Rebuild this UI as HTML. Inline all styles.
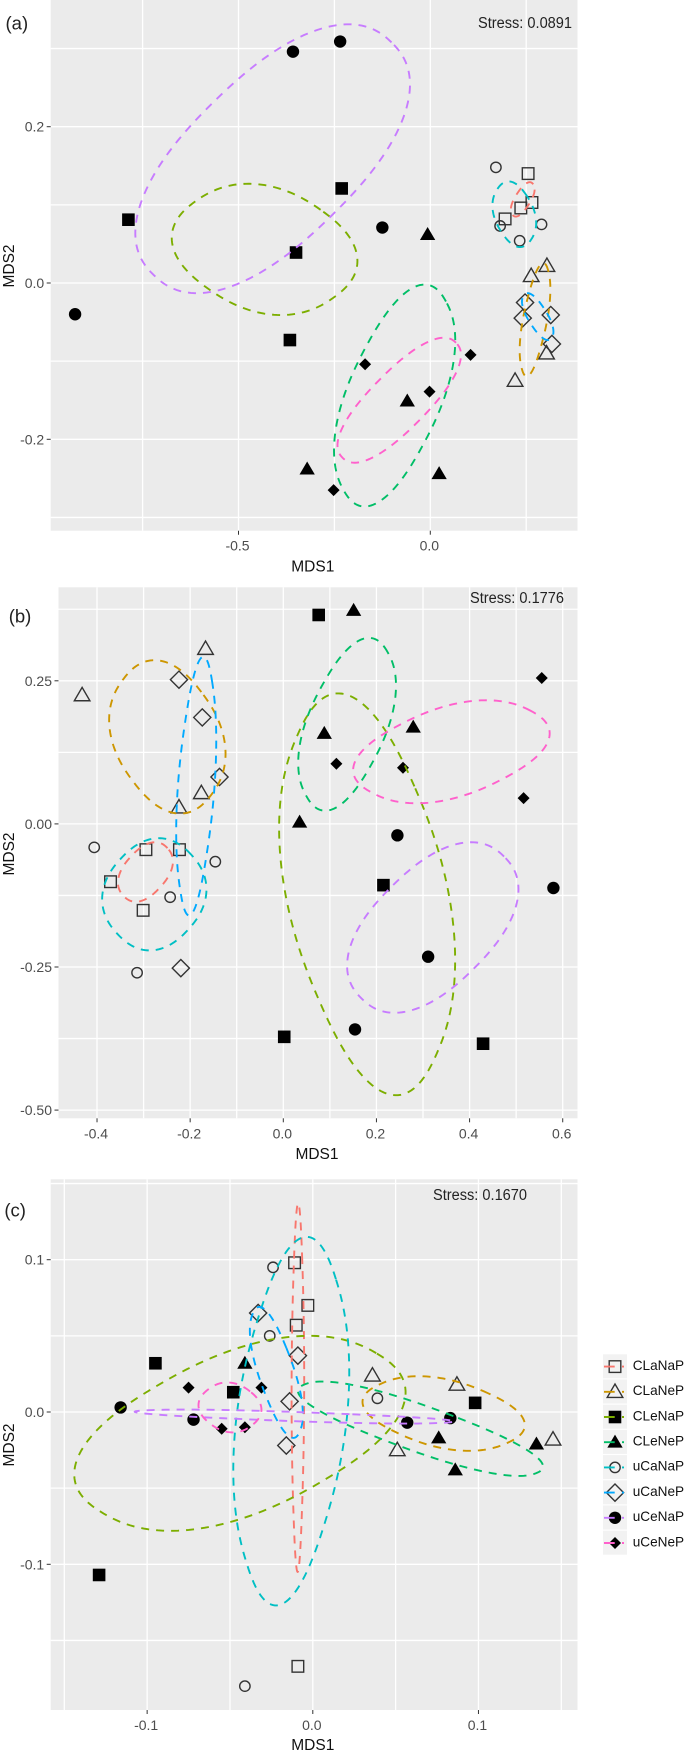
<!DOCTYPE html>
<html lang="en">
<head>
<meta charset="utf-8">
<title>MDS ordination panels</title>
<style>
html,body{margin:0;padding:0;background:#fff;}
svg{display:block;font-family:"Liberation Sans",sans-serif;filter:blur(0.35px);}
.tick{font-size:14px;fill:#4d4d4d;}
.axis-title{font-size:15.5px;fill:#111;}
.stress{font-size:15.5px;fill:#222;}
.tag{font-size:18.5px;fill:#222;}
.legend-label{font-size:13.6px;fill:#111;}
</style>
</head>
<body>
<svg id="chart" xmlns="http://www.w3.org/2000/svg" width="685" height="1751" viewBox="0 0 685 1751">
  <g id="panel-a">
    <rect x="50.7" y="0" width="526.8" height="530.7" fill="#ebebeb"/>
    <g id="panel-a-layer"></g>
    <text class="stress" x="478" y="28" textLength="94" lengthAdjust="spacingAndGlyphs">Stress: 0.0891</text>
    <text class="tag" x="5.5" y="29.5">(a)</text>
    <text class="axis-title" x="312.8" y="571.5" text-anchor="middle">MDS1</text>
    <text class="axis-title" transform="translate(14,266) rotate(-90)" text-anchor="middle">MDS2</text>
  </g>
  <g id="panel-b">
    <rect x="58.5" y="587.3" width="519" height="531" fill="#ebebeb"/>
    <g id="panel-b-layer"></g>
    <text class="stress" x="470" y="603" textLength="94" lengthAdjust="spacingAndGlyphs">Stress: 0.1776</text>
    <text class="tag" x="8.7" y="622.5">(b)</text>
    <text class="axis-title" x="317" y="1159" text-anchor="middle">MDS1</text>
    <text class="axis-title" transform="translate(14,854) rotate(-90)" text-anchor="middle">MDS2</text>
  </g>
  <g id="panel-c">
    <rect x="50.7" y="1179.3" width="526.8" height="530.7" fill="#ebebeb"/>
    <g id="panel-c-layer"></g>
    <text class="stress" x="433" y="1200" textLength="94" lengthAdjust="spacingAndGlyphs">Stress: 0.1670</text>
    <text class="tag" x="4.4" y="1216.5">(c)</text>
    <text class="axis-title" x="312.8" y="1750" text-anchor="middle">MDS1</text>
    <text class="axis-title" transform="translate(14,1445) rotate(-90)" text-anchor="middle">MDS2</text>
  </g>
  <g id="legend"></g>
</svg>
<script>
// ---- groups ----
const groups = ['CLaNaP','CLaNeP','CLeNaP','CLeNeP','uCaNaP','uCaNeP','uCeNaP','uCeNeP'];
const groupColors = ['#F8766D','#CD9600','#7CAE00','#00BE67','#00BFC4','#00A9FF','#C77CFF','#FF61CC'];
const groupShapes = ['square','triangle','square','triangle','circle','diamond','circle','diamond'];
const groupFilled = [false,false,true,true,false,false,true,true];

// ---- panel (a) data: MDS1 / MDS2 per group; ellipse = [centre1, centre2, spread1, spread2, correlation] ----
const aCLaNaPx = [0.255,0.265,0.236,0.195];
const aCLaNaPy = [0.140,0.103,0.096,0.082];
const aCLaNaPe = [0.241,0.107,0.031,0.022,0.65];
const aCLaNePx = [0.304,0.263,0.221,0.303];
const aCLaNePy = [0.022,0.009,-0.125,-0.090];
const aCLaNePe = [0.273,-0.047,0.040,0.0725,0.6];
const aCLeNaPx = [-0.787,-0.231,-0.350,-0.366];
const aCLeNaPy = [0.081,0.121,0.039,-0.073];
const aCLeNaPe = [-0.432,0.043,0.242,0.084,-0.2];
const aCLeNePx = [-0.007,-0.060,-0.321,0.023];
const aCLeNePy = [0.062,-0.151,-0.238,-0.244];
const aCLeNePe = [-0.093,-0.144,0.158,0.142,0.55];
const auCaNaPx = [0.171,0.182,0.290,0.233];
const auCaNaPy = [0.148,0.073,0.075,0.054];
const auCaNaPe = [0.219,0.088,0.057,0.042,-0.3];
const auCaNePx = [0.247,0.241,0.314,0.317];
const auCaNePy = [-0.025,-0.045,-0.041,-0.078];
const auCaNePe = [0.280,-0.043,0.041,0.030,-0.7];
const auCeNaPx = [-0.926,-0.358,-0.235,-0.125];
const auCeNaPy = [-0.040,0.296,0.309,0.071];
const auCeNaPe = [-0.411,0.159,0.358,0.172,0.61];
const auCeNePx = [-0.170,0.105,-0.002,-0.252];
const auCeNePy = [-0.104,-0.092,-0.139,-0.265];
const auCeNePe = [-0.081,-0.150,0.161,0.080,0.78];
const aXMajor = [-0.5,0];
const aXLabels = ['-0.5','0.0'];
const aXMinor = [-0.75,-0.25,0.25];
const aYMajor = [-0.2,0,0.2];
const aYLabels = ['-0.2','0.0','0.2'];
const aYMinor = [-0.3,-0.1,0.1,0.3];

// ---- panel (b) data ----
const bCLaNaPx = [-0.295,-0.223,-0.371,-0.301];
const bCLaNaPy = [-0.045,-0.045,-0.101,-0.151];
const bCLaNaPe = [-0.296,-0.084,0.059,0.052,0.4];
const bCLaNePx = [-0.432,-0.167,-0.176,-0.224];
const bCLaNePy = [0.225,0.306,0.054,0.029];
const bCLaNePe = [-0.249,0.152,0.125,0.134,-0.25];
const bCLeNaPx = [0.076,0.215,0.002,0.429];
const bCLeNaPy = [0.365,-0.107,-0.372,-0.384];
const bCLeNaPe = [0.180,-0.123,0.189,0.351,-0.37];
const bCLeNePx = [0.151,0.088,0.279,0.035];
const bCLeNePy = [0.373,0.158,0.169,0.003];
const bCLeNePe = [0.137,0.174,0.105,0.151,0.5];
const buCaNaPx = [-0.406,-0.146,-0.243,-0.314];
const buCaNaPy = [-0.041,-0.066,-0.128,-0.260];
const buCaNaPe = [-0.277,-0.123,0.112,0.098,0.1];
const buCaNePx = [-0.224,-0.174,-0.137,-0.220];
const buCaNePy = [0.252,0.186,0.082,-0.252];
const buCaNePe = [-0.187,0.066,0.043,0.226,0.4];
const buCeNaPx = [0.245,0.580,0.311,0.154];
const buCeNaPy = [-0.020,-0.112,-0.232,-0.359];
const buCeNaPe = [0.321,-0.181,0.184,0.149,0.5];
const buCeNePx = [0.555,0.114,0.257,0.516];
const buCeNePy = [0.255,0.105,0.098,0.045];
const buCeNePe = [0.361,0.126,0.211,0.090,0.4];
const bXMajor = [-0.4,-0.2,0,0.2,0.4,0.6];
const bXLabels = ['-0.4','-0.2','0.0','0.2','0.4','0.6'];
const bXMinor = [-0.3,-0.1,0.1,0.3,0.5];
const bYMajor = [-0.5,-0.25,0,0.25];
const bYLabels = ['-0.50','-0.25','0.00','0.25'];
const bYMinor = [-0.375,-0.125,0.125,0.375];

// ---- panel (c) data ----
const cCLaNaPx = [-0.011,-0.003,-0.010,-0.009];
const cCLaNaPy = [0.098,0.070,0.057,-0.167];
const cCLaNaPe = [-0.009,0.016,0.0038,0.121,0.05];
const cCLaNePx = [0.036,0.087,0.051,0.145];
const cCLaNePy = [0.024,0.018,-0.025,-0.018];
const cCLaNePe = [0.079,-0.001,0.049,0.0245,-0.35];
const cCLeNaPx = [-0.095,-0.048,0.098,-0.129];
const cCLeNaPy = [0.032,0.013,0.006,-0.107];
const cCLeNaPe = [-0.044,-0.014,0.100,0.064,0.47];
const cCLeNePx = [-0.041,0.076,0.135,0.086];
const cCLeNePy = [0.032,-0.017,-0.021,-0.038];
const cCLeNePe = [0.065,-0.011,0.074,0.031,-0.85];
const cuCaNaPx = [-0.024,-0.026,0.039,-0.041];
const cuCaNaPy = [0.095,0.050,0.009,-0.180];
const cuCaNaPe = [-0.013,-0.006,0.035,0.121,0.3];
const cuCaNePx = [-0.033,-0.009,-0.014,-0.016];
const cuCaNePy = [0.065,0.037,0.007,-0.022];
const cuCaNePe = [-0.022,0.026,0.016,0.043,-0.7];
const cuCeNaPx = [-0.116,-0.072,0.057,0.083];
const cuCeNaPy = [0.003,-0.005,-0.007,-0.004];
const cuCeNaPe = [-0.011,-0.003,0.0965,0.0046,-0.75];
const cuCeNePx = [-0.075,-0.031,-0.055,-0.041];
const cuCeNePy = [0.016,0.016,-0.011,-0.010];
const cuCeNePe = [-0.050,0.003,0.019,0.0164,-0.1];
const cXMajor = [-0.1,0,0.1];
const cXLabels = ['-0.1','0.0','0.1'];
const cXMinor = [-0.15,-0.05,0.05,0.15];
const cYMajor = [-0.1,0,0.1];
const cYLabels = ['-0.1','0.0','0.1'];
const cYMinor = [-0.15,-0.05,0.05,0.15];

const NS = 'http://www.w3.org/2000/svg';
function make(parent, tag, attrs) {
  const node = document.createElementNS(NS, tag);
  for (const k in attrs) node.setAttribute(k, attrs[k]);
  parent.appendChild(node);
  return node;
}

function drawMarker(parent, shape, filled, px, py) {
  const paint = filled
    ? {fill:'#000', stroke:'none'}
    : {fill:'none', stroke:'#333', 'stroke-width':1.4};
  let m;
  if (shape === 'circle') {
    const r = filled ? 6.2 : 5.2;
    m = make(parent, 'circle', Object.assign({cx:px, cy:py, r:r}, paint));
  } else if (shape === 'square') {
    const s = filled ? 12.6 : 11.6;
    m = make(parent, 'rect', Object.assign({x:px-s/2, y:py-s/2, width:s, height:s}, paint));
  } else if (shape === 'triangle') {
    const w = filled ? 15.3 : 15.6, h = filled ? 13 : 13.4;
    m = make(parent, 'polygon', Object.assign({points:(px-w/2)+','+(py+h*0.42)+' '+(px+w/2)+','+(py+h*0.42)+' '+px+','+(py-h*0.58)}, paint));
  } else {
    const w = filled ? 6 : 8.6, h = filled ? 6 : 8.6;
    m = make(parent, 'polygon', Object.assign({points:(px-w)+','+py+' '+px+','+(py-h)+' '+(px+w)+','+py+' '+px+','+(py+h)}, paint));
  }
  return m;
}

// outline of a group's ellipse; slightly squared so the long ends stay blunt as in the figure
function ellipsePath(e, sx, sy) {
  const cx = e[0], cy = e[1], w = e[2], h = e[3], r = e[4];
  const a = Math.sqrt((1 + r) / 2), b = Math.sqrt((1 - r) / 2);
  const p = 0.86;
  const raw = [];
  let mx = 0, my = 0;
  for (let i = 0; i < 160; i++) {
    const t = i / 160 * 2 * Math.PI;
    const c = Math.sign(Math.cos(t)) * Math.pow(Math.abs(Math.cos(t)), p);
    const s = Math.sign(Math.sin(t)) * Math.pow(Math.abs(Math.sin(t)), p);
    const u = a * c - b * s, v = a * c + b * s;
    raw.push([u, v]);
    mx = Math.max(mx, Math.abs(u));
    my = Math.max(my, Math.abs(v));
  }
  let d = '';
  raw.forEach(function (q, i) {
    const vx = cx + w * q[0] / mx;
    const vy = cy + h * q[1] / my;
    d += (i ? 'L' : 'M') + sx(vx).toFixed(2) + ' ' + sy(vy).toFixed(2);
  });
  return d + 'Z';
}

function drawPanel(cfg) {
  const layer = document.getElementById(cfg.layer);
  const L = cfg.left, R = cfg.right, T = cfg.top, B = cfg.bottom;
  const grid = '#ffffff';
  [cfg.yMinor, cfg.yMajor].forEach(function (vals) {
    vals.forEach(function (v) {
      const gl = make(layer, 'line', {x1:L, x2:R, y1:cfg.sy(v), y2:cfg.sy(v), stroke:grid, 'stroke-width':1.3});
      
      
    });
  });
  [cfg.xMinor, cfg.xMajor].forEach(function (vals) {
    vals.forEach(function (v) {
      const gl = make(layer, 'line', {x1:cfg.sx(v), x2:cfg.sx(v), y1:T, y2:B, stroke:grid, 'stroke-width':1.3});
      
      
    });
  });
  cfg.xMajor.forEach(function (v, i) {
    const tk = make(layer, 'line', {x1:cfg.sx(v), x2:cfg.sx(v), y1:B, y2:B+4, stroke:'#333', 'stroke-width':1});
    
    
    const tl = make(layer, 'text', {x:cfg.sx(v)-1, y:B+20, 'text-anchor':'middle', class:'tick'});
    tl.textContent = cfg.xLabels[i];
    
    
  });
  cfg.yMajor.forEach(function (v, i) {
    const tk = make(layer, 'line', {x1:L-4, x2:L, y1:cfg.sy(v), y2:cfg.sy(v), stroke:'#333', 'stroke-width':1});
    
    
    const tl = make(layer, 'text', {x:L-6.5, y:cfg.sy(v)+5, 'text-anchor':'end', class:'tick'});
    tl.textContent = cfg.yLabels[i];
    
    
  });
  cfg.series.forEach(function (s, g) {
    s[0].forEach(function (xv, i) {
      const mk = drawMarker(layer, groupShapes[g], groupFilled[g], cfg.sx(xv), cfg.sy(s[1][i]));
      
      
    });
  });
  cfg.series.forEach(function (s, g) {
    const el = make(layer, 'path', {d:ellipsePath(s[2], cfg.sx, cfg.sy), fill:'none', stroke:groupColors[g], 'stroke-width':1.9, 'stroke-dasharray':'8 7'});
    
    
  });
}

drawPanel({
  id:'panel-a', layer:'panel-a-layer', left:50.7, right:577.5, top:0, bottom:530.7,
  sx:function (v) { return 430.3 + 383.6 * v; }, sy:function (v) { return 283 - 781.5 * v; },
  xMajor:aXMajor, xLabels:aXLabels, xMinor:aXMinor, yMajor:aYMajor, yLabels:aYLabels, yMinor:aYMinor,
  series:[[aCLaNaPx,aCLaNaPy,aCLaNaPe],[aCLaNePx,aCLaNePy,aCLaNePe],[aCLeNaPx,aCLeNaPy,aCLeNaPe],[aCLeNePx,aCLeNePy,aCLeNePe],
          [auCaNaPx,auCaNaPy,auCaNaPe],[auCaNePx,auCaNePy,auCaNePe],[auCeNaPx,auCeNaPy,auCeNaPe],[auCeNePx,auCeNePy,auCeNePe]]
});
drawPanel({
  id:'panel-b', layer:'panel-b-layer', left:58.5, right:577.5, top:587.3, bottom:1118.3,
  sx:function (v) { return 283.3 + 465.7 * v; }, sy:function (v) { return 823.9 - 572.4 * v; },
  xMajor:bXMajor, xLabels:bXLabels, xMinor:bXMinor, yMajor:bYMajor, yLabels:bYLabels, yMinor:bYMinor,
  series:[[bCLaNaPx,bCLaNaPy,bCLaNaPe],[bCLaNePx,bCLaNePy,bCLaNePe],[bCLeNaPx,bCLeNaPy,bCLeNaPe],[bCLeNePx,bCLeNePy,bCLeNePe],
          [buCaNaPx,buCaNaPy,buCaNaPe],[buCaNePx,buCaNePy,buCaNePe],[buCeNaPx,buCeNaPy,buCeNaPe],[buCeNePx,buCeNePy,buCeNePe]]
});
drawPanel({
  id:'panel-c', layer:'panel-c-layer', left:50.7, right:577.5, top:1179.3, bottom:1710,
  sx:function (v) { return 312.8 + 1656.6 * v; }, sy:function (v) { return 1412 - 1523 * v; },
  xMajor:cXMajor, xLabels:cXLabels, xMinor:cXMinor, yMajor:cYMajor, yLabels:cYLabels, yMinor:cYMinor,
  series:[[cCLaNaPx,cCLaNaPy,cCLaNaPe],[cCLaNePx,cCLaNePy,cCLaNePe],[cCLeNaPx,cCLeNaPy,cCLeNaPe],[cCLeNePx,cCLeNePy,cCLeNePe],
          [cuCaNaPx,cuCaNaPy,cuCaNaPe],[cuCaNePx,cuCaNePy,cuCaNePe],[cuCeNaPx,cuCeNaPy,cuCeNaPe],[cuCeNePx,cuCeNePy,cuCeNePe]]
});

// ---- legend ----
const legendRoot = document.getElementById('legend');
groups.forEach(function (name, g) {
  const top = 1354.3 + g * 25.2;
  const mid = top + 12.3;
  const entry = make(legendRoot, 'g', {});
  
  
  const key = make(entry, 'rect', {x:603, y:top, width:24, height:24, fill:'#f2f2f2'});
  
  
  const sym = drawMarker(entry, groupShapes[g], groupFilled[g], 615, mid);
  
  
  const dash = make(entry, 'line', {x1:604, x2:624, y1:mid, y2:mid, stroke:groupColors[g], 'stroke-width':1.9, 'stroke-dasharray':'10.7 7.3 2'});
  
  
  const label = make(entry, 'text', {x:632.7, y:mid+3.3, class:'legend-label'});
  label.textContent = name;
  
  
});
</script>
</body>
</html>
